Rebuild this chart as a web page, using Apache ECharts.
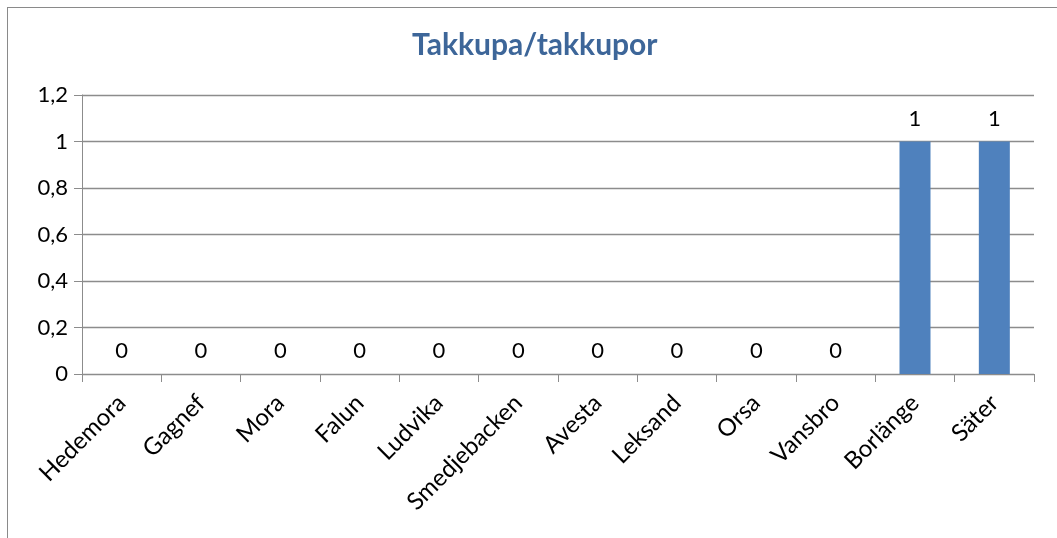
<!DOCTYPE html>
<html>
<head>
<meta charset="utf-8">
<script src="https://cdn.jsdelivr.net/npm/echarts@6/dist/echarts.min.js"></script>
<style>
  html, body { margin: 0; padding: 0; background: #fff; overflow: hidden; }
  #frame { position: absolute; left: 7px; top: 7px; width: 1100px; height: 600px; border: 1px solid #8a8a8a; box-sizing: border-box; }
  #chart { width: 1057px; height: 538px; position: absolute; left: 0; top: 0; }
</style>
</head>
<body>
<div id="frame"></div>
<div id="chart"></div>
<script>
// Orter (kategorier) och antal takkupor per ort
const categories = ['Hedemora', 'Gagnef', 'Mora', 'Falun', 'Ludvika', 'Smedjebacken', 'Avesta', 'Leksand', 'Orsa', 'Vansbro', 'Borlänge', 'Säter'];
const values = [0, 0, 0, 0, 0, 0, 0, 0, 0, 0, 1, 1];
const chartTitle = 'Takkupa/takkupor';

const FONT = 'Lato, "Open Sans", sans-serif';
const gray = '#8c8c8c';

const chart = echarts.init(document.getElementById('chart'), null, { renderer: 'canvas' });
chart.setOption({
  animation: false,
  backgroundColor: 'transparent',
  title: {
    text: chartTitle,
    left: 407,
    top: 25,
    textStyle: { fontFamily: FONT, fontSize: 30, fontWeight: 'bold', color: '#3d6699' }
  },
  grid: { left: 82, right: 23, top: 95, bottom: 164, containLabel: false },
  xAxis: {
    type: 'category',
    data: categories,
    axisLine: { lineStyle: { color: gray, width: 1 } },
    axisTick: { show: true, length: 8, lineStyle: { color: gray } },
    axisLabel: {
      rotate: 45, interval: 0, margin: 25,
      fontFamily: FONT, fontSize: 24, color: '#000'
    }
  },
  yAxis: {
    type: 'value',
    min: 0, max: 1.2, interval: 0.2,
    axisLine: { show: true, lineStyle: { color: gray, width: 1 } },
    axisTick: { show: true, length: 8, lineStyle: { color: gray } },
    splitLine: { show: true, lineStyle: { color: gray, width: 1.3 } },
    axisLabel: {
      margin: 14,
      fontFamily: FONT, fontSize: 22, color: '#000',
      formatter: v => String(Math.round(v * 10) / 10).replace('.', ',')
    }
  },
  series: [{
    type: 'bar',
    data: values,
    barWidth: 31,
    itemStyle: { color: '#4f81bd' },
    label: {
      show: true, position: 'top', distance: 12,
      fontFamily: FONT, fontSize: 22, color: '#000',
      formatter: p => String(p.value).replace('.', ',')
    }
  }]
});
</script>
</body>
</html>
